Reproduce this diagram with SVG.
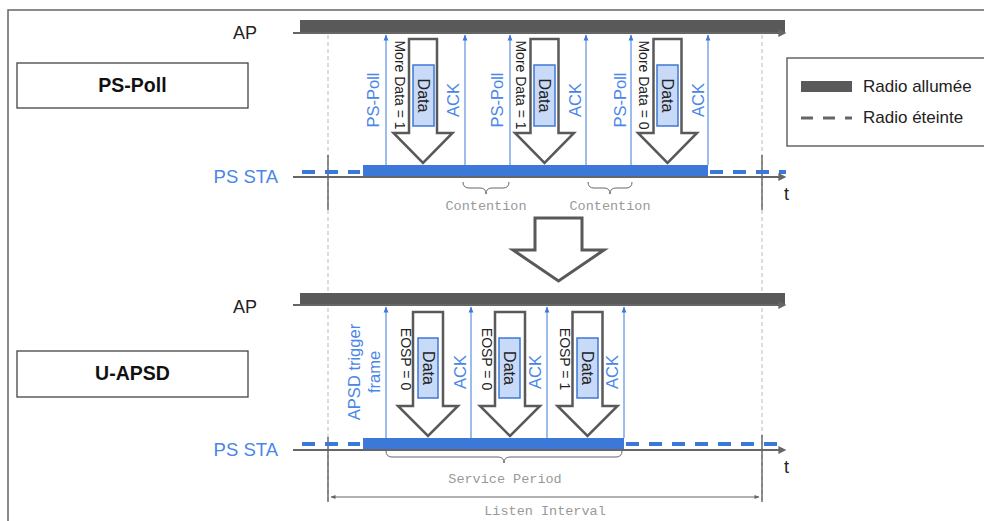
<svg xmlns="http://www.w3.org/2000/svg" width="984" height="521" viewBox="0 0 984 521">
<defs>
<style>
.sans{font-family:"Liberation Sans",Arial,sans-serif}
.mono{font-family:"Liberation Mono","Courier New",monospace;font-size:13.5px;fill:#999}
.lbl{font-family:"Liberation Sans",Arial,sans-serif;font-size:16.5px;fill:#4a86e8}
.blk{font-family:"Liberation Sans",Arial,sans-serif;font-size:14px;fill:#222}
.dtxt{font-family:"Liberation Sans",Arial,sans-serif;font-size:16px;fill:#222}
.tl{stroke:#666;stroke-width:2;fill:none}
.bar{fill:#595959}
.sbar{fill:#3c78d8}
.bdash{stroke:#3c78d8;stroke-width:4;stroke-dasharray:13 10;fill:none}
.vdash{stroke:#bbb;stroke-width:1;stroke-dasharray:4 3;fill:none}
.tick{stroke:#555;stroke-width:1.3;fill:none}
.up{stroke:#3c78d8;stroke-width:1;fill:none}
.harrow{fill:#fff;stroke:#595959;stroke-width:2.5;stroke-linejoin:miter}
.dbox{fill:#c9daf8;stroke:#3c78d8;stroke-width:1.5}
.brace{stroke:#666;stroke-width:1;fill:none}
.box{fill:#fff;stroke:#444;stroke-width:1.3}
</style>
<marker id="tarr" viewBox="0 0 10 10" refX="2" refY="5" markerWidth="5" markerHeight="4" orient="auto" markerUnits="strokeWidth">
<path d="M0,0 L10,5 L0,10 Z" fill="#666"/>
</marker>
<marker id="uarr" viewBox="0 0 10 10" refX="9" refY="5" markerWidth="7" markerHeight="6" orient="auto" markerUnits="userSpaceOnUse">
<path d="M0,1 L10,5 L0,9 Z" fill="#3c78d8"/>
</marker>
<marker id="larr" viewBox="0 0 10 10" refX="9" refY="5" markerWidth="7" markerHeight="5" orient="auto-start-reverse" markerUnits="userSpaceOnUse">
<path d="M0,1 L10,5 L0,9 Z" fill="#666"/>
</marker>
</defs>
<rect x="0" y="0" width="984" height="521" fill="#fff"/>
<rect x="8" y="10" width="1000" height="540" fill="none" stroke="#666" stroke-width="1.5"/>

<g id="guides">
<line class="vdash" x1="328" y1="35" x2="328" y2="500"/>
<line class="vdash" x1="762" y1="35" x2="762" y2="500"/>
<line class="tick" x1="328" y1="155" x2="328" y2="210"/>
<line class="tick" x1="762" y1="155" x2="762" y2="210"/>
<line class="tick" x1="328" y1="437" x2="328" y2="502"/>
<line class="tick" x1="762" y1="435" x2="762" y2="502"/>
</g>

<g id="mode-pspoll">
<rect class="box" x="17" y="63" width="231" height="45"/>
<text class="sans" x="132.5" y="92" font-size="19.5" font-weight="bold" text-anchor="middle" fill="#111">PS-Poll</text>
</g>
<g id="mode-uapsd">
<rect class="box" x="17" y="351" width="231" height="46"/>
<text class="sans" x="132.5" y="380" font-size="19.5" font-weight="bold" text-anchor="middle" fill="#111">U-APSD</text>
</g>

<g id="timeline-top-ap">
<text class="sans" x="257" y="39" font-size="18" text-anchor="end" fill="#222">AP</text>
<rect class="bar" x="300" y="20" width="485" height="13"/>
<line class="tl" x1="293" y1="33" x2="780" y2="33" marker-end="url(#tarr)"/>
</g>
<g id="timeline-top-sta">
<text class="sans" x="278" y="183" font-size="18.5" text-anchor="end" fill="#4a86e8">PS STA</text>
<line class="bdash" x1="302" y1="172" x2="360" y2="172"/>
<line class="bdash" x1="710" y1="172" x2="786" y2="172"/>
<rect class="sbar" x="363" y="165" width="345" height="12"/>
<line class="tl" x1="293" y1="177" x2="780" y2="177" marker-end="url(#tarr)"/>
<text class="sans" x="784" y="200" font-size="18" fill="#222">t</text>
</g>

<g id="timeline-bottom-ap">
<text class="sans" x="257" y="313" font-size="18" text-anchor="end" fill="#222">AP</text>
<rect class="bar" x="300" y="293" width="485" height="12"/>
<line class="tl" x1="293" y1="305" x2="780" y2="305" marker-end="url(#tarr)"/>
</g>
<g id="timeline-bottom-sta">
<text class="sans" x="278" y="456" font-size="18.5" text-anchor="end" fill="#4a86e8">PS STA</text>
<line class="bdash" x1="302" y1="444" x2="360" y2="444"/>
<line class="bdash" x1="626" y1="444" x2="786" y2="444"/>
<rect class="sbar" x="363" y="438" width="261" height="12"/>
<line class="tl" x1="293" y1="450" x2="780" y2="450" marker-end="url(#tarr)"/>
<text class="sans" x="784" y="473" font-size="18" fill="#222">t</text>
</g>

<g id="connectors">
<line class="up" x1="386" y1="165" x2="386" y2="35" marker-end="url(#uarr)"/>
<line class="up" x1="465" y1="165" x2="465" y2="35" marker-end="url(#uarr)"/>
<line class="up" x1="510" y1="165" x2="510" y2="35" marker-end="url(#uarr)"/>
<line class="up" x1="586" y1="165" x2="586" y2="35" marker-end="url(#uarr)"/>
<line class="up" x1="631" y1="165" x2="631" y2="35" marker-end="url(#uarr)"/>
<line class="up" x1="708" y1="165" x2="708" y2="35" marker-end="url(#uarr)"/>
<line class="up" x1="386" y1="438" x2="386" y2="307" marker-end="url(#uarr)"/>
<line class="up" x1="471" y1="438" x2="471" y2="307" marker-end="url(#uarr)"/>
<line class="up" x1="547" y1="438" x2="547" y2="307" marker-end="url(#uarr)"/>
<line class="up" x1="624" y1="438" x2="624" y2="307" marker-end="url(#uarr)"/>
<line x1="331" y1="497" x2="759" y2="497" stroke="#666" stroke-width="1" marker-start="url(#larr)" marker-end="url(#larr)"/>
</g>

<g id="frame-labels">
<text class="lbl" transform="translate(373,100) rotate(-90)" text-anchor="middle" dominant-baseline="central">PS-Poll</text>
<text class="lbl" transform="translate(453,100) rotate(-90)" text-anchor="middle" dominant-baseline="central">ACK</text>
<text class="lbl" transform="translate(497,100) rotate(-90)" text-anchor="middle" dominant-baseline="central">PS-Poll</text>
<text class="lbl" transform="translate(575,100) rotate(-90)" text-anchor="middle" dominant-baseline="central">ACK</text>
<text class="lbl" transform="translate(620,100) rotate(-90)" text-anchor="middle" dominant-baseline="central">PS-Poll</text>
<text class="lbl" transform="translate(698,100) rotate(-90)" text-anchor="middle" dominant-baseline="central">ACK</text>
<text class="lbl" font-size="17" transform="translate(354,372) rotate(-90)" text-anchor="middle" dominant-baseline="central">APSD trigger</text>
<text class="lbl" font-size="17" transform="translate(374,372) rotate(-90)" text-anchor="middle" dominant-baseline="central">frame</text>
<text class="lbl" transform="translate(460,372) rotate(-90)" text-anchor="middle" dominant-baseline="central">ACK</text>
<text class="lbl" transform="translate(535,372) rotate(-90)" text-anchor="middle" dominant-baseline="central">ACK</text>
<text class="lbl" transform="translate(612,372) rotate(-90)" text-anchor="middle" dominant-baseline="central">ACK</text>
</g>

<g id="data-top-1">
<path class="harrow" d="M409,39 H437 V133 H452.5 L423,163 L393.5,133 H409 Z"/>
<rect class="dbox" x="413" y="65" width="21" height="61"/>
<text class="dtxt" transform="translate(423.5,95.5) rotate(90)" text-anchor="middle" dominant-baseline="central">Data</text>
<text class="blk" transform="translate(400,85) rotate(90)" text-anchor="middle" dominant-baseline="central">More Data = 1</text>
</g>
<g id="data-top-2">
<path class="harrow" d="M530.5,39 H558.5 V133 H574 L544.5,163 L515,133 H530.5 Z"/>
<rect class="dbox" x="534" y="65" width="21" height="61"/>
<text class="dtxt" transform="translate(544.5,95.5) rotate(90)" text-anchor="middle" dominant-baseline="central">Data</text>
<text class="blk" transform="translate(521,85) rotate(90)" text-anchor="middle" dominant-baseline="central">More Data = 1</text>
</g>
<g id="data-top-3">
<path class="harrow" d="M653.5,39 H681.5 V133 H697 L667.5,163 L638,133 H653.5 Z"/>
<rect class="dbox" x="657" y="65" width="21" height="61"/>
<text class="dtxt" transform="translate(667.5,95.5) rotate(90)" text-anchor="middle" dominant-baseline="central">Data</text>
<text class="blk" transform="translate(644,85) rotate(90)" text-anchor="middle" dominant-baseline="central">More Data = 0</text>
</g>

<g id="data-bottom-1">
<path class="harrow" d="M413,312 H443 V406 H458 L428,436 L398,406 H413 Z"/>
<rect class="dbox" x="418" y="338" width="20" height="60"/>
<text class="dtxt" transform="translate(428,368) rotate(90)" text-anchor="middle" dominant-baseline="central">Data</text>
<text class="blk" transform="translate(406,359) rotate(90)" text-anchor="middle" dominant-baseline="central">EOSP = 0</text>
</g>
<g id="data-bottom-2">
<path class="harrow" d="M495,312 H525 V406 H540 L510,436 L480,406 H495 Z"/>
<rect class="dbox" x="499" y="338" width="21" height="60"/>
<text class="dtxt" transform="translate(509.5,368) rotate(90)" text-anchor="middle" dominant-baseline="central">Data</text>
<text class="blk" transform="translate(487,359) rotate(90)" text-anchor="middle" dominant-baseline="central">EOSP = 0</text>
</g>
<g id="data-bottom-3">
<path class="harrow" d="M572.5,312 H602.5 V406 H617.5 L587.5,436 L557.5,406 H572.5 Z"/>
<rect class="dbox" x="577" y="338" width="21" height="60"/>
<text class="dtxt" transform="translate(587.5,368) rotate(90)" text-anchor="middle" dominant-baseline="central">Data</text>
<text class="blk" transform="translate(565,359) rotate(90)" text-anchor="middle" dominant-baseline="central">EOSP = 1</text>
</g>

<g id="contention-1">
<path class="brace" d="M463,182 Q463,188 469,188 L480,188 Q486,188 486,194 Q486,188 492,188 L503,188 Q509,188 509,182"/>
<text class="mono" x="486" y="210" text-anchor="middle">Contention</text>
</g>
<g id="contention-2">
<path class="brace" d="M588,182 Q588,188 594,188 L604,188 Q610,188 610,194 Q610,188 616,188 L626,188 Q632,188 632,182"/>
<text class="mono" x="610" y="210" text-anchor="middle">Contention</text>
</g>
<g id="service-period">
<path class="brace" d="M386,451 Q386,457 392,457 L498,457 Q504,457 504,463 Q504,457 510,457 L616,457 Q622,457 622,451"/>
<text class="mono" x="505" y="483" text-anchor="middle">Service Period</text>
</g>
<g id="listen-interval">
<text class="mono" x="545" y="515" font-size="13" text-anchor="middle">Listen Interval</text>
</g>

<g id="transition-arrow">
<path d="M535,218 H582 V250 H604 L558.5,281 L513,250 H535 Z" fill="#fff" stroke="#595959" stroke-width="3"/>
</g>

<g id="legend">
<rect x="787" y="58" width="200" height="88" fill="#fff" stroke="#666" stroke-width="1.5"/>
<rect x="801" y="81" width="51" height="11" fill="#595959"/>
<text class="sans" x="863" y="92" font-size="17" fill="#222">Radio allumée</text>
<line x1="801" y1="118" x2="852" y2="118" stroke="#666" stroke-width="3" stroke-dasharray="12 10"/>
<text class="sans" x="863" y="123" font-size="17" fill="#222">Radio éteinte</text>
</g>
</svg>
